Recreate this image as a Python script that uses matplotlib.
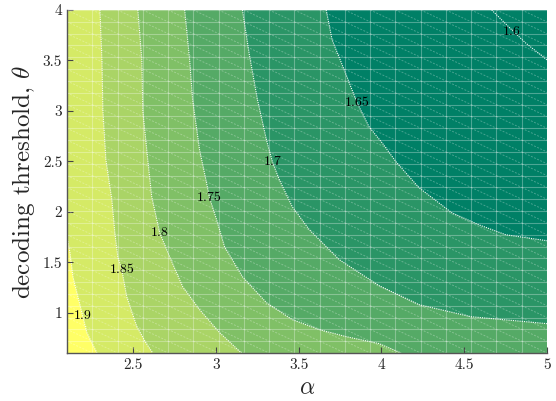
import numpy as np
import matplotlib
matplotlib.use('Agg')
import matplotlib.pyplot as plt
from matplotlib.collections import LineCollection

plt.rcParams['font.family'] = ['cmr10', 'DejaVu Serif']
plt.rcParams['mathtext.fontset'] = 'cm'
plt.rcParams['axes.formatter.use_mathtext'] = True

# ---axis ranges / ticks---
alpha_lim = [2.1, 5.0]
theta_lim = [0.6, 4.0]
alpha_ticks = [2.5, 3, 3.5, 4, 4.5, 5]
alpha_ticklabels = ['2.5', '3', '3.5', '4', '4.5', '5']
theta_ticks = [1, 1.5, 2, 2.5, 3, 3.5, 4]
theta_ticklabels = ['1', '1.5', '2', '2.5', '3', '3.5', '4']

# ---contour levels (alpha, theta)---
levels = [1.9, 1.85, 1.8, 1.75, 1.7, 1.65, 1.6]
c190_alpha = [2.100, 2.118, 2.136, 2.166, 2.196, 2.220, 2.281]
c190_theta = [1.752, 1.594, 1.356, 1.158, 0.960, 0.802, 0.600]
c185_alpha = [2.299, 2.311, 2.317, 2.335, 2.371, 2.389, 2.407, 2.431, 2.461, 2.522, 2.576, 2.618]
c185_theta = [4.000, 3.505, 3.000, 2.515, 2.119, 1.792, 1.554, 1.426, 1.158, 0.861, 0.703, 0.600]
c180_alpha = [2.528, 2.552, 2.558, 2.588, 2.612, 2.660, 2.720, 2.799, 2.901, 3.022, 3.154]
c180_theta = [4.000, 3.505, 3.000, 2.515, 2.149, 1.792, 1.554, 1.257, 1.030, 0.802, 0.600]
c175_alpha = [2.811, 2.841, 2.859, 2.901, 2.943, 2.961, 3.004, 3.052, 3.160, 3.305, 3.461, 3.624, 3.787, 3.986, 4.118]
c175_theta = [4.000, 3.505, 3.109, 2.614, 2.287, 2.139, 1.921, 1.653, 1.356, 1.099, 0.931, 0.832, 0.762, 0.693, 0.600]
c170_alpha = [3.160, 3.202, 3.251, 3.305, 3.341, 3.383, 3.461, 3.564, 3.745, 3.986, 4.227, 4.540, 5.000]
c170_theta = [4.000, 3.554, 3.109, 2.713, 2.495, 2.317, 2.050, 1.822, 1.525, 1.267, 1.079, 0.960, 0.891]
c165_alpha = [3.666, 3.702, 3.775, 3.853, 3.925, 4.004, 4.088, 4.227, 4.425, 4.588, 4.751, 5.000]
c165_theta = [4.000, 3.703, 3.406, 3.079, 2.842, 2.683, 2.495, 2.238, 1.990, 1.871, 1.772, 1.713]
c160_alpha = [4.666, 4.769, 4.871, 5.000]
c160_theta = [4.000, 3.832, 3.673, 3.505]
curves_alpha = [c190_alpha, c185_alpha, c180_alpha, c175_alpha, c170_alpha, c165_alpha, c160_alpha]
curves_theta = [c190_theta, c185_theta, c180_theta, c175_theta, c170_theta, c165_theta, c160_theta]

# ---label positions---
label_text = ['1.9', '1.85', '1.8', '1.75', '1.7', '1.65', '1.6']
label_alpha = [2.196, 2.431, 2.660, 2.961, 3.341, 3.853, 4.787]
label_theta = [0.970, 1.426, 1.792, 2.139, 2.495, 3.079, 3.782]

# band colours, summer colormap, region below each level
band_frac = [5/6., 4/6., 3/6., 2/6., 1/6., 0., 0.]
cmap = plt.cm.summer

fig = plt.figure(figsize=(5.56, 4.01), dpi=100)
ax = fig.add_axes([67/556., 48/401., 480/556., 343/401.])
x0, x1 = alpha_lim
y0, y1 = theta_lim
ax.set_facecolor(cmap(1.0))

for k in range(len(levels)):
    xs = list(curves_alpha[k])
    ys = list(curves_theta[k])
    # close region on the upper/right side of the curve
    if ys[-1] <= y0 + 1e-9:
        xs += [x1, x1]
        ys += [y0, y1]
    else:
        xs += [x1]
        ys += [y1]
    if xs[0] <= x0 + 1e-9:
        xs += [x0]
        ys += [y1]
    ax.fill(xs, ys, color=cmap(band_frac[k]), lw=0, zorder=1)

# rendering mesh (patch seams)
gx = np.linspace(x0, x1, 20)
gy = np.linspace(y0, y1, 30)
segs = [[(x, y0), (x, y1)] for x in gx] + [[(x0, y), (x1, y)] for y in gy]
ax.add_collection(LineCollection(segs, colors='white', linewidths=0.8, alpha=0.3, zorder=2))
dsegs = []
for i in range(len(gx) - 1):
    for j in range(len(gy) - 1):
        dsegs.append([(gx[i], gy[j + 1]), (gx[i + 1], gy[j])])
ax.add_collection(LineCollection(dsegs, colors='white', linewidths=0.7, alpha=0.28,
                                 linestyles=(0, (2, 1.5)), zorder=2))

for k in range(len(levels)):
    ax.plot(curves_alpha[k], curves_theta[k], color='white', lw=0.8,
            ls=(0, (1, 1)), alpha=0.95, zorder=3)

for t, a, th in zip(label_text, label_alpha, label_theta):
    ax.text(a, th, t, fontsize=10, ha='center', va='center', color='black', zorder=4)

ax.set_xlim(x0, x1)
ax.set_ylim(y0, y1)
ax.set_xticks(alpha_ticks)
ax.set_xticklabels(alpha_ticklabels)
ax.set_yticks(theta_ticks)
ax.set_yticklabels(theta_ticklabels)
ax.tick_params(direction='in', length=4, width=0.8, color='#444444', labelsize=11,
               labelcolor='#262626', top=False, right=False)
for s in ['top', 'right']:
    ax.spines[s].set_visible(False)
for s in ['left', 'bottom']:
    ax.spines[s].set_color('#555555')
    ax.spines[s].set_linewidth(1.0)
    ax.spines[s].set_zorder(5)

ax.set_xlabel(r'$\alpha$', fontsize=17, color='#262626')
ax.set_ylabel(r'decoding threshold, $\theta$', fontsize=18, color='#262626')

fig.savefig('out.png', dpi=100)
